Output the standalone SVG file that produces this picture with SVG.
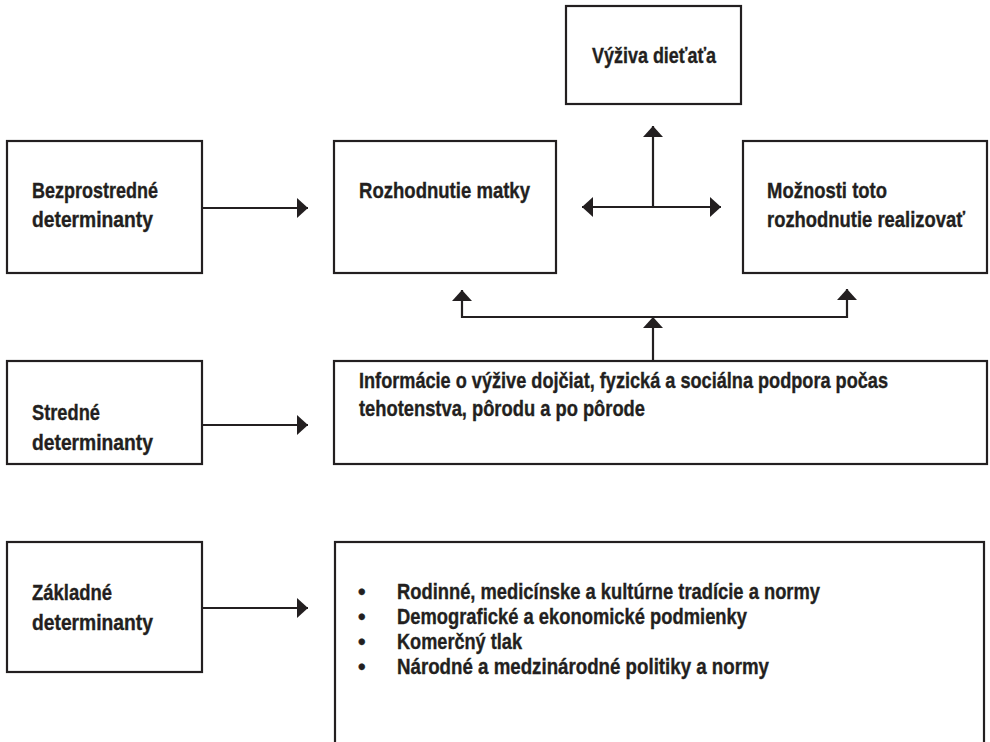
<svg xmlns="http://www.w3.org/2000/svg" width="990" height="742" viewBox="0 0 990 742">
<style>
  .box{fill:#fff;stroke:#231f20;stroke-width:2.2}
  .t{font-family:"Liberation Sans Narrow","Liberation Sans",Arial,sans-serif;font-weight:bold;font-size:21.5px;fill:#231f20;stroke:#231f20;stroke-width:0.35}
  .c{fill:none;stroke:#231f20;stroke-width:2.2}
</style>
<defs>
  <marker id="ah" markerUnits="userSpaceOnUse" markerWidth="12" markerHeight="20" refX="11" refY="10" orient="auto-start-reverse" viewBox="0 0 12 20">
    <path d="M0,0 L11,10 L0,20 Z" fill="#231f20"/>
  </marker>
</defs>
<rect width="990" height="742" fill="#fff"/>

<g id="vyziva">
  <rect class="box" x="566" y="6" width="175" height="98"/>
  <text class="t" x="592" y="63" textLength="124" lengthAdjust="spacingAndGlyphs">Výživa dieťaťa</text>
</g>
<g id="bezprostredne">
  <rect class="box" x="7" y="141" width="195" height="132"/>
  <text class="t" x="32" y="198" textLength="126" lengthAdjust="spacingAndGlyphs">Bezprostredné</text>
  <text class="t" x="32" y="227" textLength="121" lengthAdjust="spacingAndGlyphs">determinanty</text>
</g>
<g id="rozhodnutie">
  <rect class="box" x="334" y="141" width="222" height="132"/>
  <text class="t" x="359" y="198" textLength="171" lengthAdjust="spacingAndGlyphs">Rozhodnutie matky</text>
</g>
<g id="moznosti">
  <rect class="box" x="743" y="141" width="244" height="132"/>
  <text class="t" x="767" y="198" textLength="120" lengthAdjust="spacingAndGlyphs">Možnosti toto</text>
  <text class="t" x="767" y="227" textLength="198" lengthAdjust="spacingAndGlyphs">rozhodnutie realizovať</text>
</g>
<g id="stredne">
  <rect class="box" x="7" y="361" width="195" height="103"/>
  <text class="t" x="32" y="420" textLength="68" lengthAdjust="spacingAndGlyphs">Stredné</text>
  <text class="t" x="32" y="450" textLength="121" lengthAdjust="spacingAndGlyphs">determinanty</text>
</g>
<g id="informacie">
  <rect class="box" x="334" y="361" width="653" height="103"/>
  <text class="t" x="359" y="388" textLength="529" lengthAdjust="spacingAndGlyphs">Informácie o výžive dojčiat, fyzická a sociálna podpora počas</text>
  <text class="t" x="359" y="416" textLength="286" lengthAdjust="spacingAndGlyphs">tehotenstva, pôrodu a po pôrode</text>
</g>
<g id="zakladne">
  <rect class="box" x="7" y="542" width="195" height="130"/>
  <text class="t" x="32" y="600" textLength="80" lengthAdjust="spacingAndGlyphs">Základné</text>
  <text class="t" x="32" y="630" textLength="121" lengthAdjust="spacingAndGlyphs">determinanty</text>
</g>
<g id="faktory">
  <rect class="box" x="335" y="542" width="649" height="220"/>
  <text class="t" x="358" y="599">•</text>
  <text class="t" x="397" y="599" textLength="423" lengthAdjust="spacingAndGlyphs">Rodinné, medicínske a kultúrne tradície a normy</text>
  <text class="t" x="358" y="624">•</text>
  <text class="t" x="397" y="624" textLength="350" lengthAdjust="spacingAndGlyphs">Demografické a ekonomické podmienky</text>
  <text class="t" x="358" y="649">•</text>
  <text class="t" x="397" y="649" textLength="125" lengthAdjust="spacingAndGlyphs">Komerčný tlak</text>
  <text class="t" x="358" y="674">•</text>
  <text class="t" x="397" y="674" textLength="372" lengthAdjust="spacingAndGlyphs">Národné a medzinárodné politiky a normy</text>
</g>

<g id="connectors">
  <path class="c" d="M202,208 H308" marker-end="url(#ah)"/>
  <path class="c" d="M202,425 H308" marker-end="url(#ah)"/>
  <path class="c" d="M202,608 H308" marker-end="url(#ah)"/>
  <path class="c" d="M582,207 H721" marker-start="url(#ah)" marker-end="url(#ah)"/>
  <path class="c" d="M653,207 V126" marker-end="url(#ah)"/>
  <path class="c" d="M653,317 H462 V290" marker-end="url(#ah)"/>
  <path class="c" d="M653,317 H847 V289" marker-end="url(#ah)"/>
  <path class="c" d="M653,361 V317" marker-end="url(#ah)"/>
</g>
</svg>
